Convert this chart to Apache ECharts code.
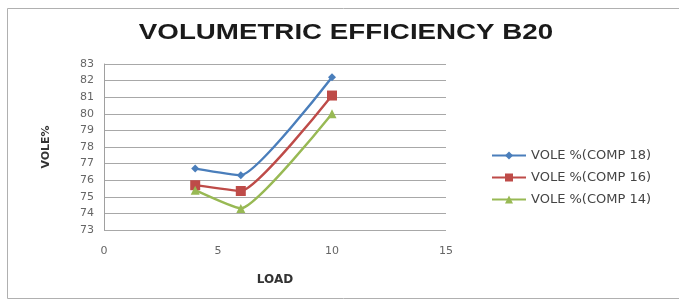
<!DOCTYPE html>
<html>
<head>
<meta charset="utf-8">
<script src="https://cdn.jsdelivr.net/npm/echarts@6/dist/echarts.min.js"></script>
<style>
  html, body { margin: 0; padding: 0; background: #ffffff; }
  #chart { width: 679px; height: 302px; }
</style>
</head>
<body>
<div id="chart"></div>
<script>
const loads = [4, 6, 10];
const comp18 = [76.7, 76.3, 82.2];
const comp16 = [75.7, 75.35, 81.1];
const comp14 = [75.4, 74.3, 80.0];
const seriesNames = ["VOLE %(COMP 18)", "VOLE %(COMP 16)", "VOLE %(COMP 14)"];
const titleText = "VOLUMETRIC EFFICIENCY B20";

function pairs(values) {
    return loads.map((x, i) => [x, values[i]]);
}

const chart = echarts.init(document.getElementById("chart"));

function lineSeries(name, values, color, symbol, size) {
    return {
        name: name,
        type: "line",
        data: pairs(values),
        smooth: 0.15,
        symbol: symbol,
        symbolSize: size,
        lineStyle: { color: color, width: 2.4 },
        itemStyle: { color: color },
    };
}

chart.setOption({
    backgroundColor: "#ffffff",
    animation: false,
    graphic: [
        {
            type: "rect",
            shape: { x: 7.5, y: 8.5, width: 672, height: 290 },
            style: { fill: "none", stroke: "#b0b0b0", lineWidth: 1 },
        },
        {
            // wide, squat title like the stretched original
            type: "text",
            x: 346,
            y: 33,
            scaleX: 1.26,
            style: {
                text: titleText,
                fill: "#1a1a1a",
                font: "bold 22px 'Liberation Sans', sans-serif",
                textAlign: "center",
                textVerticalAlign: "middle",
            },
        },
    ],
    grid: { left: 104, right: 233, top: 64, bottom: 72 },
    xAxis: {
        type: "value",
        min: 0,
        max: 15,
        interval: 5,
        name: "LOAD",
        nameLocation: "middle",
        nameGap: 44,
        nameTextStyle: { fontFamily: "DejaVu Sans", fontWeight: "bold", fontSize: 12, color: "#333" },
        axisLine: { show: false },
        axisTick: { show: false },
        splitLine: { show: false },
        axisLabel: { color: "#666", fontFamily: "DejaVu Sans", fontSize: 11, margin: 16 },
    },
    yAxis: {
        type: "value",
        min: 73,
        max: 83,
        interval: 1,
        name: "VOLE%",
        nameLocation: "middle",
        nameRotate: 90,
        nameGap: 52,
        nameTextStyle: { fontFamily: "DejaVu Sans", fontWeight: "bold", fontSize: 11, color: "#333" },
        axisLine: { show: true, lineStyle: { color: "#a0a0a0" } },
        axisTick: { show: false },
        splitLine: { lineStyle: { color: "#a8a8a8", width: 1 } },
        axisLabel: { color: "#666", fontFamily: "DejaVu Sans", fontSize: 11, margin: 10 },
    },
    legend: {
        orient: "vertical",
        left: 486,
        top: 144,
        itemGap: 9,
        itemWidth: 34,
        itemHeight: 10,
        textStyle: { fontFamily: "DejaVu Sans", fontSize: 13, color: "#444" },
        data: seriesNames,
    },
    series: [
        lineSeries(seriesNames[0], comp18, "#4a7ebb", "diamond", 8),
        lineSeries(seriesNames[1], comp16, "#be4b48", "rect", 10),
        lineSeries(seriesNames[2], comp14, "#98b954", "triangle", 9),
    ],
});
</script>
</body>
</html>
